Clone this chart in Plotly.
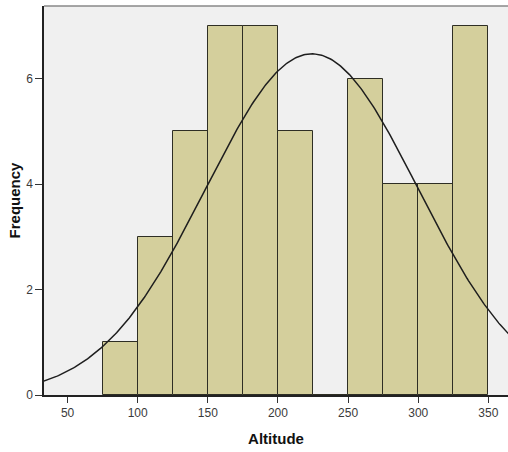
import numpy as np
import plotly.graph_objects as go

bin_starts = [75, 100, 125, 150, 175, 200, 225, 250, 275, 300, 325]
counts = [1, 3, 5, 7, 7, 5, 0, 6, 4, 4, 7]
bin_width = 25
curve_mean = 224.2
curve_sd = 75.5
x_ticks = [50, 100, 150, 200, 250, 300, 350]
y_ticks = [0, 2, 4, 6]

n = sum(counts)
centers = [s + bin_width / 2 for s in bin_starts]

fig = go.Figure()
fig.add_trace(go.Bar(
    x=centers, y=counts, width=[bin_width] * len(counts),
    marker=dict(color="#d4cf9c", line=dict(color="#2e2e24", width=1)),
    showlegend=False, hoverinfo="skip",
))

xs = np.linspace(20, 380, 400)
ys = n * bin_width / (curve_sd * np.sqrt(2 * np.pi)) * np.exp(-((xs - curve_mean) ** 2) / (2 * curve_sd ** 2))
fig.add_trace(go.Scatter(x=xs, y=ys, mode="lines",
                         line=dict(color="#1e1e1e", width=1.5),
                         showlegend=False, hoverinfo="skip", cliponaxis=True))

fig.update_layout(
    width=508, height=452,
    margin=dict(l=44, r=0, t=6, b=57),
    paper_bgcolor="white", plot_bgcolor="#f0f0f0",
    bargap=0,
    font=dict(family="Liberation Sans, Arial, sans-serif", color="#333333"),
    xaxis=dict(
        range=[33.2, 364], tickvals=x_ticks, ticks="outside", ticklen=6,
        tickcolor="#333333", tickwidth=1,
        showline=True, linecolor="#222222", linewidth=1.5, mirror=False,
        showgrid=False, zeroline=False,
        tickfont=dict(size=12, color="#3a3a3a"),
        title=dict(text="<b>Altitude</b>", font=dict(size=15, color="#111111"), standoff=14),
    ),
    yaxis=dict(
        range=[0, 7.38], tickvals=y_ticks, ticks="outside", ticklen=7,
        tickcolor="#333333", tickwidth=1,
        showline=True, linecolor="#222222", linewidth=1.5,
        showgrid=False, zeroline=False,
        tickfont=dict(size=12, color="#3a3a3a"),
        title=dict(text="<b>Frequency</b>", font=dict(size=15, color="#111111"), standoff=2),
    ),
    shapes=[dict(type="line", xref="paper", yref="paper", x0=0, x1=1, y0=1, y1=1,
                 line=dict(color="#888888", width=1.5))],
)

fig.write_html("out.html")
